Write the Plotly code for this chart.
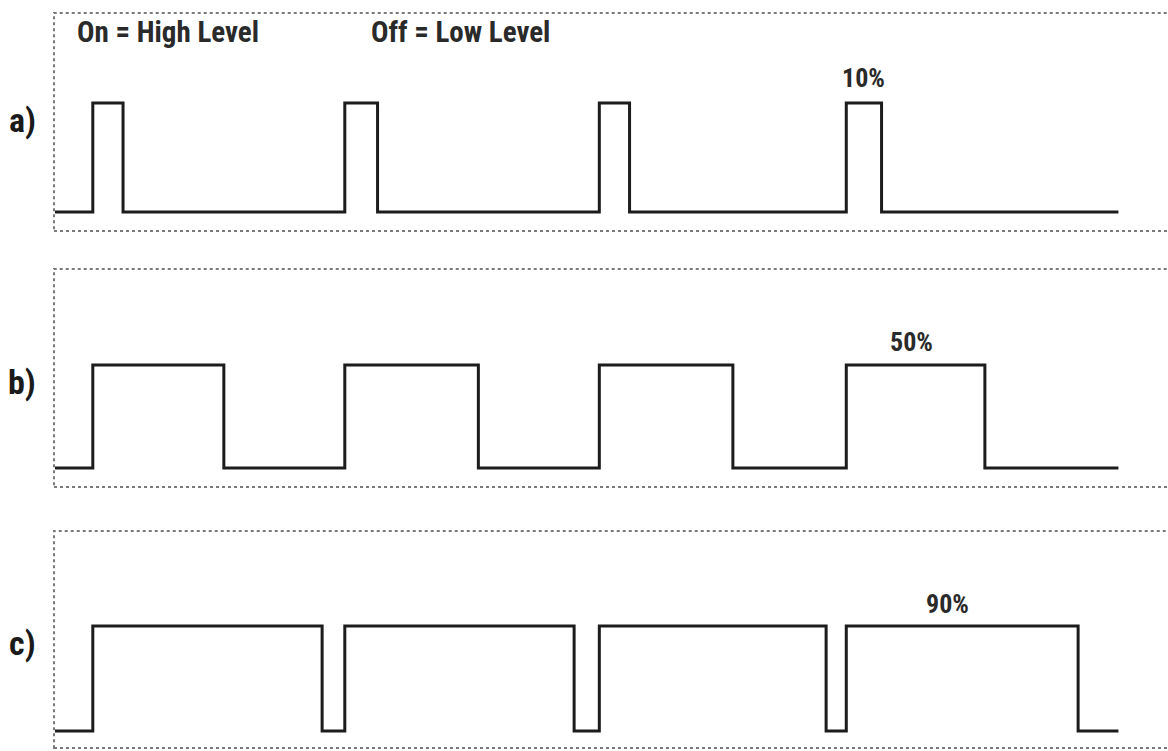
import plotly.graph_objects as go

W, H = 1168, 751

# ---- data (time units, one PWM period ~ 10 units) ----
panel_names = ["a)", "b)", "c)"]
duty_labels = ["10%", "50%", "90%"]
duty_label_x = [32.1, 34.0, 35.4]
rise_a = [1.5, 11.5, 21.6, 31.4]
fall_a = [2.7, 12.8, 22.8, 32.8]
rise_b = [1.5, 11.5, 21.6, 31.4]
fall_b = [6.7, 16.8, 26.9, 36.9]
rise_c = [1.5, 11.5, 21.6, 31.4]
fall_c = [10.6, 20.6, 30.6, 40.6]
t_start = 0.0
t_end = 42.2
top_texts = ["On = High Level", "Off = Low Level"]
top_text_x = [75, 369]

# ---- layout constants (pixels) ----
X0_PX, PX_PER_T = 55, 25.2
box_left_px = 54
# (box top, high level, low level, box bottom)
panel_px = [(13, 103, 212, 231), (269, 365, 468, 487), (531, 626, 731, 748)]
label_shift = [25, 23, 22]

FONT = "Roboto Condensed, Open Sans Condensed, DejaVu Sans Condensed, sans-serif"
LINE = "#1c1c1c"

def wave(rises, falls):
    xs, ys = [t_start], [0]
    for r, f in zip(rises, falls):
        xs += [r, f]
        ys += [1, 0]
    xs.append(t_end)
    ys.append(0)
    return xs, ys

waves = [wave(rise_a, fall_a), wave(rise_b, fall_b), wave(rise_c, fall_c)]

fig = go.Figure()
layout = dict(
    width=W, height=H, margin=dict(l=0, r=0, t=0, b=0),
    paper_bgcolor="white", plot_bgcolor="white", showlegend=False,
)
xr = [(box_left_px - X0_PX) / PX_PER_T, (W - X0_PX) / PX_PER_T]
shapes, annotations = [], []
for i, ((top, hi, lo, bot), (xs, ys)) in enumerate(zip(panel_px, waves)):
    n = "" if i == 0 else str(i + 1)
    unit = lo - hi
    yr = [-(bot - lo) / unit, (lo - top) / unit]
    fig.add_trace(go.Scatter(
        x=xs, y=ys, mode="lines", line=dict(color=LINE, width=3, shape="hv"),
        xaxis="x" + n, yaxis="y" + n, hoverinfo="skip"))
    layout["xaxis" + n] = dict(domain=[box_left_px / W, 1], range=xr, visible=False,
                               anchor="y" + n, fixedrange=True)
    layout["yaxis" + n] = dict(domain=[1 - bot / H, 1 - top / H], range=yr, visible=False,
                               anchor="x" + n, fixedrange=True)
    shapes.append(dict(type="rect", xref="paper", yref="paper",
                       x0=box_left_px / W, x1=1.02, y0=1 - bot / H, y1=1 - top / H,
                       line=dict(color="#7a7a7a", width=2, dash="dot"), layer="below"))
    annotations.append(dict(text="<b>" + panel_names[i] + "</b>", xref="paper", yref="paper",
                            x=22 / W, y=1 - (hi + 17) / H, xanchor="center", yanchor="middle",
                            showarrow=False,
                            font=dict(family=FONT, size=34, color="#1a1a1a")))
    annotations.append(dict(text="<b>" + duty_labels[i] + "</b>", xref="x" + n, yref="y" + n,
                            x=duty_label_x[i], y=1, yshift=label_shift[i], yanchor="middle",
                            showarrow=False,
                            font=dict(family=FONT, size=26, color="#2a2a2a")))

for txt, px in zip(top_texts, top_text_x):
    annotations.append(dict(text="<b>" + txt + "</b>", xref="paper", yref="paper",
                            x=px / W, y=1 - 32 / H, xanchor="left", yanchor="middle",
                            showarrow=False,
                            font=dict(family=FONT, size=29, color="#2a2a2a")))

layout["shapes"] = shapes
layout["annotations"] = annotations
fig.update_layout(**layout)
fig.write_html("out.html", config={"displayModeBar": False},
               post_script="document.body.style.margin='0';")
